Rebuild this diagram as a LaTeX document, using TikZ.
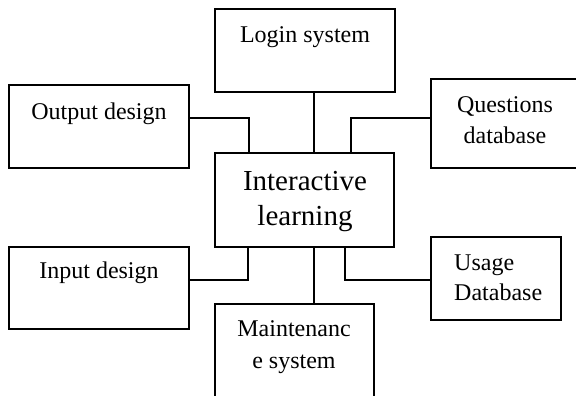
\documentclass[tikz,border=0pt]{standalone}
\usepackage{fontspec}
\setmainfont{Liberation Serif}
\begin{document}
\begin{tikzpicture}[x=1pt,y=-1pt,
  box/.style={draw=black,line width=1.3pt,fill=white,inner sep=0pt,outer sep=0pt},
  link/.style={draw=black,line width=1.3pt},
  lbl/.style={anchor=base,inner sep=0pt,font=\fontsize{24}{24}\selectfont},
  biglbl/.style={anchor=base,inner sep=0pt,font=\fontsize{29}{29}\selectfont}]
\useasboundingbox (0,0) rectangle (576,396);

% boxes (centre, width, height)
\node[box,minimum width=180pt,minimum height=83pt] (login)  at (305,50.5)  {};
\node[box,minimum width=180pt,minimum height=83pt] (output) at (99,126.5)  {};
\node[box,minimum width=179pt,minimum height=94pt] (core)   at (304.5,200) {};
\node[box,minimum width=146pt,minimum height=89pt] (quest)  at (504,123.5) {};
\node[box,minimum width=180pt,minimum height=82pt] (input)  at (99,288)    {};
\node[box,minimum width=130pt,minimum height=83pt] (usage)  at (496,278.5) {};
\node[box,minimum width=159pt,minimum height=98pt] (maint)  at (294.5,353) {};

% connectors
\draw[link] (output.east |- 0,118) -| (core.north -| 249,0);
\draw[link] (login.south -| 314,0) -- (core.north -| 314,0);
\draw[link] (quest.west |- 0,118) -| (core.north -| 351,0);
\draw[link] (input.east |- 0,280) -| (core.south -| 248,0);
\draw[link] (usage.west |- 0,280) -| (core.south -| 345,0);
\draw[link] (core.south -| 314,0) -- (maint.north -| 314,0);

% labels
\node[lbl] (tlogin) at (305,43) {Login system};
\node[lbl] (tout) at (99,119) {Output design};
\node[lbl] (tq1) at (505,112) {Questions};
\node[lbl] (tq2) at (505,143) {database};
\node[biglbl] (tc1) at (305,190) {Interactive};
\node[biglbl] (tc2) at (305,225) {learning};
\node[lbl] (tin) at (99,278) {Input design};
\node[lbl,anchor=base west] (tu1) at (454,270) {Usage};
\node[lbl,anchor=base west] (tu2) at (454,300) {Database};
\node[lbl] (tm1) at (294,336) {Maintenanc};
\node[lbl] (tm2) at (294,368) {e system};
\end{tikzpicture}
\end{document}
